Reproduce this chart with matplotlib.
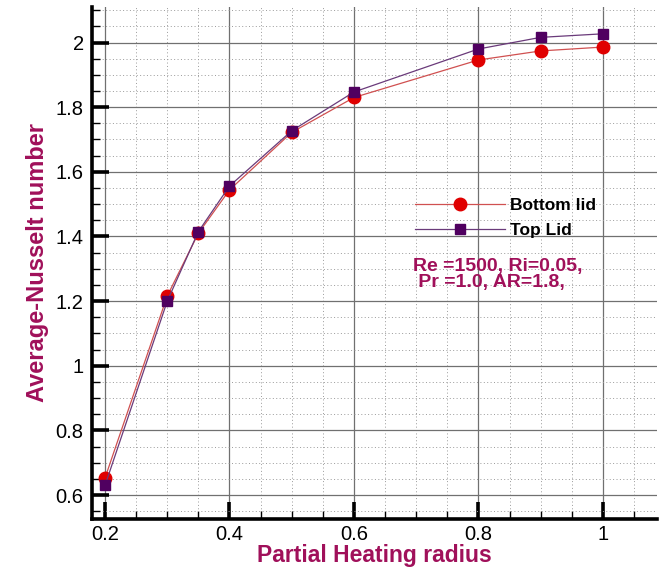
import matplotlib
matplotlib.use("Agg")
import matplotlib.pyplot as plt
from matplotlib.ticker import MultipleLocator, FormatStrFormatter

# partial heating radius and average Nusselt number for both lids
radius = [0.2, 0.3, 0.35, 0.4, 0.5, 0.6, 0.8, 0.9, 1.0]
nu_bottom = [0.653, 1.216, 1.410, 1.544, 1.722, 1.830, 1.946, 1.974, 1.986]
nu_top = [0.630, 1.200, 1.415, 1.556, 1.727, 1.847, 1.980, 2.016, 2.027]

LABEL_COLOR = "#a0105a"
FONT = "Liberation Sans"

plt.rcParams["font.family"] = FONT

fig = plt.figure(figsize=(6.65, 5.67), dpi=100)
ax = fig.add_axes([0.1383, 0.0847, 0.8497, 0.903])

ax.plot(radius, nu_bottom, color="#d05050", lw=0.9, marker="o", ms=9,
        mfc="#e00000", mec="#e00000", label="Bottom lid", zorder=3)
ax.plot(radius, nu_top, color="#6a3a7a", lw=0.9, marker="s", ms=7,
        mfc="#500060", mec="#500060", label="Top Lid", zorder=4)

ax.set_xlim(0.179, 1.087)
ax.set_ylim(0.526, 2.11)

ax.xaxis.set_major_locator(MultipleLocator(0.2))
ax.xaxis.set_minor_locator(MultipleLocator(0.05))
ax.yaxis.set_major_locator(MultipleLocator(0.2))
ax.yaxis.set_minor_locator(MultipleLocator(0.05))
ax.xaxis.set_major_formatter(FormatStrFormatter("%g"))
ax.yaxis.set_major_formatter(FormatStrFormatter("%g"))

ax.grid(which="major", color="#707070", lw=0.9, ls="-", zorder=0)
ax.grid(which="minor", color="#9a9a9a", lw=0.7, ls=(0, (1, 2.5)), zorder=0)
ax.set_axisbelow(True)

ax.tick_params(which="major", direction="in", length=12, width=2.6,
               labelsize=14.5, pad=6)
ax.tick_params(axis="x", which="major", pad=4)
ax.tick_params(which="minor", direction="in", length=6, width=1)

for side in ("top", "right"):
    ax.spines[side].set_visible(False)
for side in ("left", "bottom"):
    ax.spines[side].set_linewidth(2.6)

ax.set_xlabel("Partial Heating radius", fontsize=16.5, fontweight="bold",
              color=LABEL_COLOR, labelpad=0)
ax.set_ylabel("Average-Nusselt number", fontsize=17, fontweight="bold",
              color=LABEL_COLOR, labelpad=5)

ax.legend(loc="upper left", bbox_to_anchor=(0.544, 0.658), frameon=False,
          numpoints=1, handlelength=5.2, handletextpad=0.25,
          labelspacing=0.6, prop={"family": FONT, "weight": "bold",
                                  "size": 12.5})

ax.text(0.568, 0.51, "Re =1500, Ri=0.05,\n Pr =1.0, AR=1.8,",
        transform=ax.transAxes, fontsize=14, fontweight="bold",
        color=LABEL_COLOR, va="top", ha="left", linespacing=0.95)

fig.savefig("out.png", dpi=100)
